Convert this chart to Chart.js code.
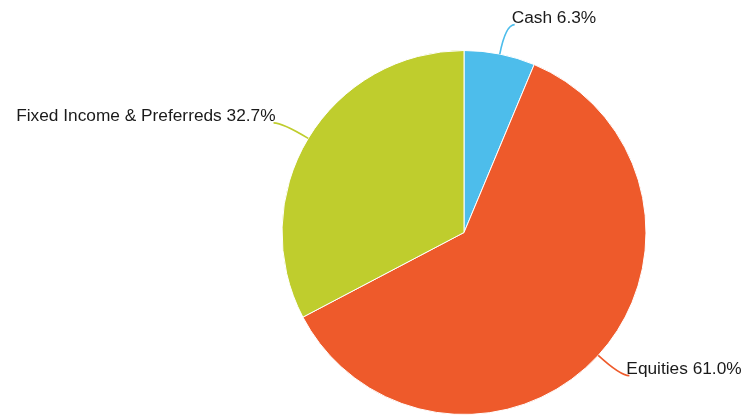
<!DOCTYPE html>
<html>
<head>
<meta charset="utf-8">
<script src="https://cdn.jsdelivr.net/npm/chart.js@4"></script>
<style>
  html, body { margin: 0; padding: 0; background: #ffffff; }
  #wrap { width: 744px; height: 416px; position: relative; }
</style>
</head>
<body>
<div id="wrap"><canvas id="c" width="744" height="416"></canvas></div>
<script>
const categories = ["Cash", "Equities", "Fixed Income & Preferreds"];
const values = [6.3, 61.0, 32.7];
const sliceColors = ["#4DBDEB", "#EE5A2B", "#BFCD2D"];

const labelPlugin = {
  id: 'pieLabels',
  afterDatasetsDraw(chart) {
    const ctx = chart.ctx;
    const meta = chart.getDatasetMeta(0);
    ctx.save();
    ctx.font = '17.3px "Liberation Sans", Arial, sans-serif';
    meta.data.forEach((arc, i) => {
      const p = arc.getProps(['x', 'y', 'startAngle', 'endAngle', 'outerRadius'], true);
      const mid = (p.startAngle + p.endAngle) / 2;
      const ux = Math.cos(mid), uy = Math.sin(mid);
      const px = p.x + ux * p.outerRadius, py = p.y + uy * p.outerRadius;
      const cx = px + ux * 30, cy = py + uy * 30;
      const right = ux >= 0;
      const ex = cx + (right ? 9 : -9), ey = cy;
      ctx.beginPath();
      ctx.moveTo(px, py);
      ctx.quadraticCurveTo(cx, cy, ex, ey);
      ctx.strokeStyle = sliceColors[i];
      ctx.lineWidth = 1.6;
      ctx.stroke();
      const text = categories[i] + ' ' + values[i].toFixed(1) + '%';
      ctx.fillStyle = '#1a1a1a';
      ctx.textBaseline = 'alphabetic';
      ctx.textAlign = right ? 'left' : 'right';
      ctx.fillText(text, right ? ex - 3 : ex + 2, ey - 2);
    });
    ctx.restore();
  }
};

new Chart(document.getElementById('c'), {
  type: 'pie',
  data: {
    labels: categories,
    datasets: [{
      data: values,
      backgroundColor: sliceColors,
      borderColor: '#ffffff',
      borderWidth: 1
    }]
  },
  options: {
    responsive: false,
    animation: false,
    layout: { padding: { left: 281.5, right: 97.5, top: 50, bottom: 1 } },
    plugins: { legend: { display: false }, tooltip: { enabled: false } }
  },
  plugins: [labelPlugin]
});
</script>
</body>
</html>
